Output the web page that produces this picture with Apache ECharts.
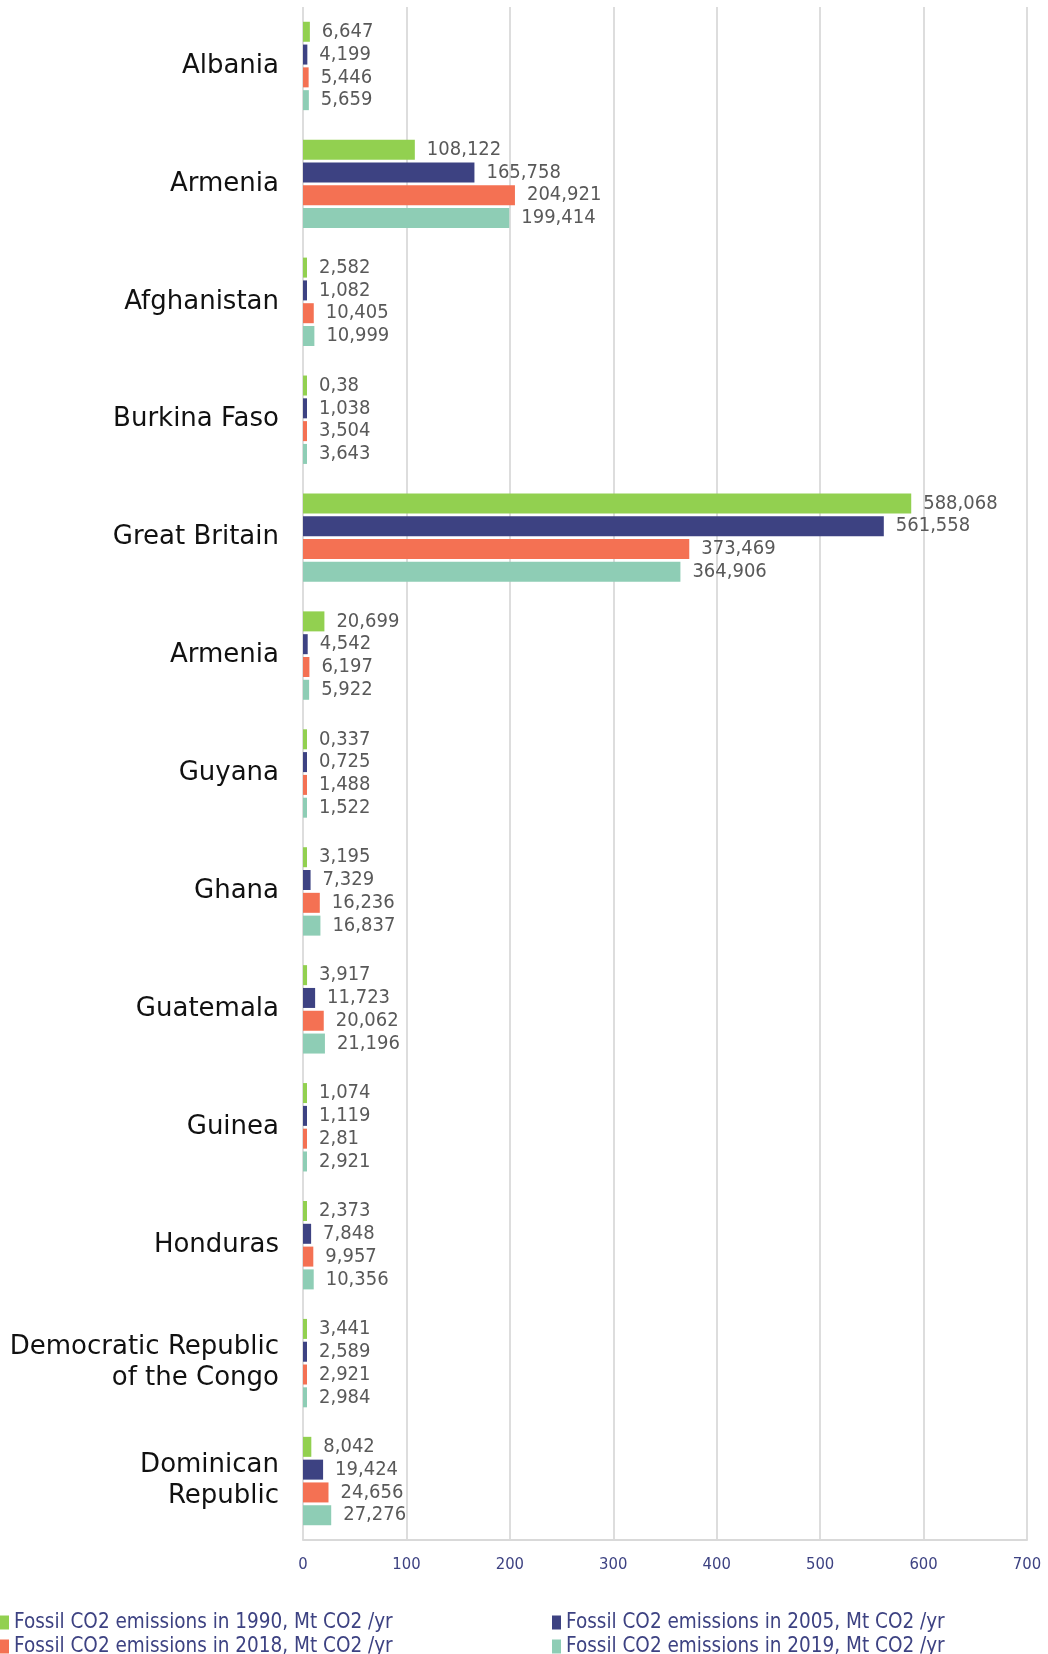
<!DOCTYPE html>
<html>
<head>
<meta charset="utf-8">
<title>Fossil CO2 emissions</title>
<script src="https://cdn.jsdelivr.net/npm/echarts@6/dist/echarts.min.js"></script>
<style>
  html, body { margin: 0; padding: 0; background: #ffffff; }
  #chart { width: 1048px; height: 1654px; }
</style>
</head>
<body>
<div id="chart"></div>
<script>
// Countries, top to bottom
const countries = [
  'Albania', 'Armenia', 'Afghanistan', 'Burkina Faso', 'Great Britain',
  'Armenia', 'Guyana', 'Ghana', 'Guatemala', 'Guinea', 'Honduras',
  'Democratic Republic\nof the Congo', 'Dominican\nRepublic'
];

// Fossil CO2 emissions, Mt CO2 / yr
const emissions1990 = [6.647, 108.122, 2.582, 0.38, 588.068, 20.699, 0.337, 3.195, 3.917, 1.074, 2.373, 3.441, 8.042];
const emissions2005 = [4.199, 165.758, 1.082, 1.038, 561.558, 4.542, 0.725, 7.329, 11.723, 1.119, 7.848, 2.589, 19.424];
const emissions2018 = [5.446, 204.921, 10.405, 3.504, 373.469, 6.197, 1.488, 16.236, 20.062, 2.81, 9.957, 2.921, 24.656];
const emissions2019 = [5.659, 199.414, 10.999, 3.643, 364.906, 5.922, 1.522, 16.837, 21.196, 2.921, 10.356, 2.984, 27.276];

const seriesNames = [
  'Fossil CO2 emissions in 1990, Mt CO2 /yr',
  'Fossil CO2 emissions in 2005, Mt CO2 /yr',
  'Fossil CO2 emissions in 2018, Mt CO2 /yr',
  'Fossil CO2 emissions in 2019, Mt CO2 /yr'
];
const seriesColors = ['#92D050', '#3D4282', '#F47153', '#8ECDB5'];
const seriesData = [emissions1990, emissions2005, emissions2018, emissions2019];

const xTicks = { min: 0, max: 700, interval: 100 };

const condensed = "'DejaVu Sans Condensed', 'Liberation Sans Narrow', sans-serif";

const chart = echarts.init(document.getElementById('chart'), null, { renderer: 'canvas' });

const series = seriesNames.map((name, i) => ({
  name: name,
  type: 'bar',
  data: seriesData[i],
  barWidth: 20,
  barGap: '14%',
  barMinHeight: 4,
  itemStyle: { color: seriesColors[i] },
  label: {
    show: true,
    position: 'right',
    distance: 12,
    color: '#595959',
    fontFamily: condensed,
    fontSize: 20,
    formatter: p => String(p.value).replace('.', ',')
  },
  emphasis: { disabled: true },
  animation: false
}));

const legendText = {
  color: '#3D4282',
  fontFamily: condensed,
  fontSize: 20.5
};

// legend: two columns, two rows
const legendSlots = [
  { left: 0, top: 1612 },
  { left: 552, top: 1612 },
  { left: 0, top: 1636 },
  { left: 552, top: 1636 }
];

chart.setOption({
  backgroundColor: '#ffffff',
  animation: false,
  grid: { left: 303, right: 21, top: 7, bottom: 114, containLabel: false },
  xAxis: {
    type: 'value',
    min: xTicks.min,
    max: xTicks.max,
    interval: xTicks.interval,
    axisLine: { show: true, lineStyle: { color: '#D9D9D9', width: 2 } },
    axisTick: { show: false },
    splitLine: { show: true, lineStyle: { color: '#DDDDDD', width: 2 } },
    axisLabel: {
      color: '#3D4282',
      fontFamily: condensed,
      fontSize: 16.5,
      margin: 16
    }
  },
  yAxis: {
    type: 'category',
    inverse: true,
    data: countries,
    axisLine: { show: false },
    axisTick: { show: false },
    splitLine: { show: false },
    axisLabel: {
      color: '#111111',
      fontFamily: "'DejaVu Sans', sans-serif",
      fontSize: 26,
      lineHeight: 31,
      margin: 24,
      align: 'right'
    }
  },
  legend: seriesNames.map((name, i) => ({
    left: legendSlots[i].left,
    top: legendSlots[i].top,
    padding: 0,
    itemWidth: 9,
    itemHeight: 14,
    icon: 'rect',
    data: [name],
    textStyle: legendText,
    selectedMode: false
  })),
  series: series
});
</script>
</body>
</html>
